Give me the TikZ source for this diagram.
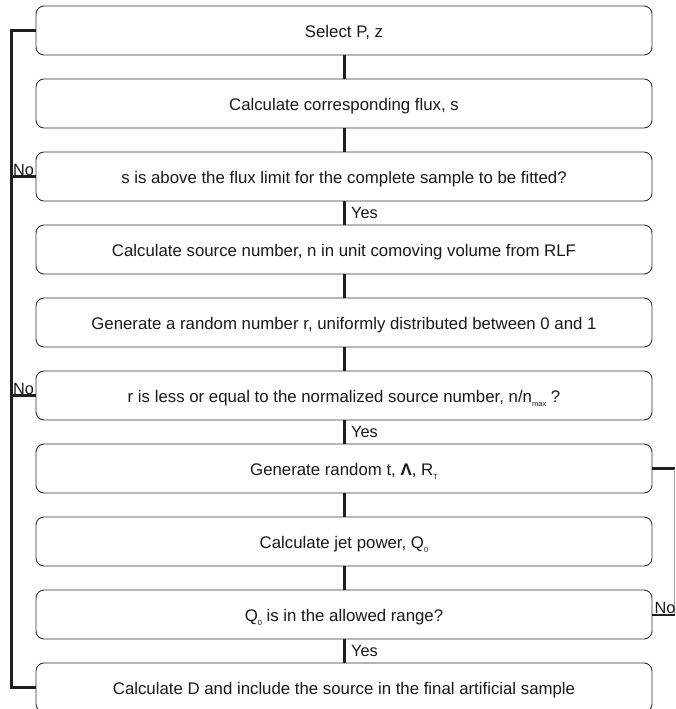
\documentclass[tikz,border=0pt]{standalone}
\usepackage{fontspec}
\setmainfont{Liberation Sans}
\usetikzlibrary{calc}
\newcommand{\sbs}[1]{\raisebox{-0.5ex}{\fontsize{7.5}{7.5}\selectfont #1}}
\tikzset{
  box/.style={draw=black!80, line width=0.9pt, rounded corners=8pt, fill=white,
    minimum width=616pt, minimum height=49pt, inner sep=0pt,
    text height=13.5pt, text depth=0pt,
    text=black!90, font=\fontsize{16.8}{19}\selectfont},
  conn/.style={line width=3pt, draw=black!88},
  lbl/.style={inner sep=1pt, text=black!90, font=\fontsize{16.3}{19}\selectfont},
  thinline/.style={line width=0.8pt, draw=black!35}
}
\begin{document}
\begin{tikzpicture}[x=1pt,y=-1pt]
\useasboundingbox (0,0) rectangle (675,709);
\clip (0,0) rectangle (675,709);
\node[box] (b1) at (344,30.5) {Select P, z};
\node[box] (b2) at (344,103.5) {Calculate corresponding flux, s};
\node[box] (b3) at (344,176.5) {s is above the flux limit for the complete sample to be fitted?};
\node[box] (b4) at (344,249.5) {Calculate source number, n in unit comoving volume from RLF};
\node[box] (b5) at (344,322.5) {Generate a random number r, uniformly distributed between 0 and 1};
\node[box] (b6) at (344,395.5) {r is less or equal to the normalized source number, n/n\sbs{max} ?};
\node[box] (b7) at (344,468.5) {Generate random t, \textbf{Λ}, R\sbs{T}};
\node[box] (b8) at (344,541.5) {Calculate jet power, Q\sbs{0}};
\node[box] (b9) at (344,614.5) {Q\sbs{0} is in the allowed range?};
\node[box] (b10) at (344,687.5) {Calculate D and include the source in the final artificial sample};

\foreach \a/\b in {b1/b2,b2/b3,b3/b4,b4/b5,b5/b6,b6/b7,b7/b8,b8/b9,b9/b10}
  \draw[conn] (\a.south) -- (\b.north);

\node[lbl, anchor=west] (y1) at ($(b3.south)!0.5!(b4.north)+(6,0)$) {Yes};
\node[lbl, anchor=west] (y2) at ($(b6.south)!0.5!(b7.north)+(6,0)$) {Yes};
\node[lbl, anchor=west] (y3) at ($(b9.south)!0.5!(b10.north)+(6,0)$) {Yes};

% left loop
\coordinate (ltop) at (11,30.5);
\coordinate (lbot) at (11,687.5);
\draw[conn] (b1.west) -- (ltop) -- (lbot) -- (b10.west);
\draw[conn] (b3.west) -- (b3.west -| ltop);
\draw[conn] (b6.west) -- (b6.west -| ltop);
\node[lbl, anchor=south west] (n1) at ($(b3.west -| ltop)+(1,0)$) {No};
\node[lbl, anchor=south west] (n2) at ($(b6.west -| ltop)+(1,0)$) {No};

% right loop
\coordinate (rtop) at (674.5,468.5);
\draw[conn] (b7.east) -- (rtop);
\draw[thinline] (rtop) -- (rtop |- b9.east);
\draw[line width=2pt, draw=black!88] (b9.east) -- (rtop |- b9.east);
\node[lbl, anchor=south west] (n3) at ($(b9.east)+(1,0)$) {No};
\end{tikzpicture}
\end{document}
